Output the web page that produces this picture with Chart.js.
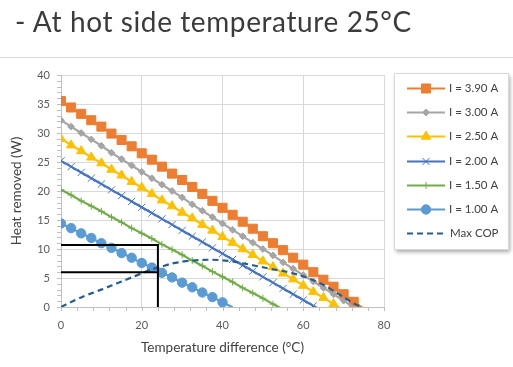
<!DOCTYPE html>
<html>
<head>
<meta charset="utf-8">
<script src="https://cdn.jsdelivr.net/npm/chart.js@4.4.1/dist/chart.umd.min.js"></script>
<style>
  html, body { margin: 0; padding: 0; background: #fff; }
  #wrap { position: relative; width: 513px; height: 367px; overflow: hidden; }
  #grafico { position: absolute; left: 0; top: 0; }
  #linha { position: absolute; left: 0; top: 57px; width: 513px; height: 1px; background: #d9d9d9; }
  #titulo { position: absolute; left: 15px; top: 7px; font-family: Lato, sans-serif; font-size: 28px; letter-spacing: 0.6px; line-height: 1; color: #3b3b3b; white-space: nowrap; }
</style>
</head>
<body>
<div id="wrap">
  <canvas id="grafico" width="513" height="367"></canvas>
  <div id="linha"></div>
  <div id="titulo">- At hot side temperature 25°C</div>
</div>
<script>
// diferença de temperatura (eixo x), passo de 2.5 °C
const deltaT = [0, 2.5, 5, 7.5, 10, 12.5, 15, 17.5, 20, 22.5, 25, 27.5, 30, 32.5, 35, 37.5,
                40, 42.5, 45, 47.5, 50, 52.5, 55, 57.5, 60, 62.5, 65, 67.5, 70, 72.5, 75];

// calor removido (W) para cada corrente
const q390 = [35.5, 34.4, 33.3, 32.2, 31.1, 29.9, 28.8, 27.7, 26.5, 25.4, 24.2, 23.0, 21.9, 20.7, 19.5, 18.3,
              17.1, 15.9, 14.7, 13.5, 12.2, 11.0, 9.8, 8.5, 7.3, 6.0, 4.7, 3.5, 2.2, 0.9, -0.3];
const q300 = [32.2, 31.1, 30.0, 28.9, 27.8, 26.6, 25.5, 24.4, 23.3, 22.2, 21.1, 20.0, 18.9, 17.7, 16.6, 15.5,
              14.4, 13.3, 12.2, 11.1, 10.0, 8.9, 7.7, 6.6, 5.5, 4.4, 3.3, 2.2, 1.1, -0.06];
const q250 = [29.0, 27.9, 26.9, 25.8, 24.8, 23.7, 22.7, 21.6, 20.6, 19.5, 18.4, 17.4, 16.3, 15.3, 14.2, 13.2,
              12.1, 11.1, 10.0, 9.0, 7.9, 6.9, 5.8, 4.8, 3.7, 2.6, 1.6, 0.5, -0.55];
const q200 = [25.2, 24.2, 23.2, 22.2, 21.2, 20.2, 19.2, 18.2, 17.2, 16.2, 15.2, 14.2, 13.2, 12.2, 11.2, 10.2,
              9.2, 8.2, 7.2, 6.2, 5.2, 4.2, 3.2, 2.2, 1.2, 0.2, -0.8];
const q150 = [20.2, 19.3, 18.3, 17.4, 16.5, 15.5, 14.6, 13.6, 12.7, 11.8, 10.8, 9.9, 9.0, 8.0, 7.1, 6.1,
              5.2, 4.3, 3.3, 2.4, 1.5, 0.5, -0.4];
const q100 = [14.4, 13.6, 12.7, 11.9, 11.0, 10.2, 9.3, 8.5, 7.6, 6.8, 5.9, 5.1, 4.2, 3.4, 2.5, 1.7, 0.8, -0.05];

// curva de COP máximo
const copX = [0, 2.5, 5, 7.5, 10, 12.5, 15, 17.5, 20, 22.5, 25, 27.5, 30, 32.5, 35, 37.5,
              40, 42.5, 45, 47.5, 50, 52.5, 55, 57.5, 60, 62.5, 65, 67.5, 70, 72.5, 74.5];
const copY = [0, 0.85, 1.65, 2.35, 3.0, 3.7, 4.4, 5.1, 5.8, 6.5, 7.0, 7.5, 7.8, 8.0, 8.1, 8.15,
              8.05, 7.85, 7.55, 7.2, 6.85, 6.5, 6.2, 5.8, 5.3, 4.6, 3.8, 2.8, 1.7, 0.6, 0];

// linhas pretas de leitura
const caixaX = [0, 24, 24];
const caixaY = [10.7, 10.7, 0];
const leituraX = [0, 24];
const leituraY = [6, 6];

const rotulos = ['I = 3.90 A', 'I = 3.00 A', 'I = 2.50 A', 'I = 2.00 A', 'I = 1.50 A', 'I = 1.00 A', 'Max COP'];
const ticksX = [0, 20, 40, 60, 80];
const ticksY = [0, 5, 10, 15, 20, 25, 30, 35, 40];

function pontos(xs, ys) {
    return ys.map((v, i) => ({ x: xs[i], y: v }));
}

function serie(label, valores, cor, estilo, raio, ordem) {
    return {
        label: label,
        data: pontos(deltaT, valores),
        borderColor: cor,
        backgroundColor: cor,
        borderWidth: 2.2,
        pointStyle: estilo,
        pointRadius: ctx => (ctx.raw && ctx.raw.y < 0 ? 0 : raio),
        pointBackgroundColor: cor,
        pointBorderColor: cor,
        pointBorderWidth: 1,
        tension: 0,
        order: ordem
    };
}

const datasets = [
    serie(rotulos[0], q390, '#ED7D31', 'rect', 6.4, 7),
    serie(rotulos[1], q300, '#A5A5A5', 'rectRot', 3.4, 6),
    serie(rotulos[2], q250, '#FFC000', 'triangle', 5.4, 5),
    serie(rotulos[3], q200, '#4472C4', 'crossRot', 5, 4),
    serie(rotulos[4], q150, '#70AD47', 'cross', 3.5, 3),
    serie(rotulos[5], q100, '#5B9BD5', 'circle', 4.7, 2),
    {
        label: rotulos[6],
        data: pontos(copX, copY),
        borderColor: '#255E91',
        borderWidth: 2.2,
        borderDash: [6, 4],
        pointRadius: 0,
        tension: 0.3,
        order: 1
    },
    {
        label: 'caixa',
        semLegenda: true,
        data: pontos(caixaX, caixaY),
        borderColor: '#000',
        borderWidth: 2,
        pointRadius: 0,
        tension: 0,
        order: 0
    },
    {
        label: 'leitura',
        semLegenda: true,
        data: pontos(leituraX, leituraY),
        borderColor: '#000',
        borderWidth: 2,
        pointRadius: 0,
        tension: 0,
        order: 0
    }
];

// traços menores dos eixos
const tracosMenores = {
    id: 'tracosMenores',
    afterDraw(chart) {
        const ctx = chart.ctx;
        const sx = chart.scales.x, sy = chart.scales.y;
        const area = chart.chartArea;
        ctx.save();
        ctx.strokeStyle = '#BFBFBF';
        ctx.lineWidth = 1;
        ctx.beginPath();
        for (let v = sx.min; v <= sx.max; v += 4) {
            const px = Math.round(sx.getPixelForValue(v)) + 0.5;
            ctx.moveTo(px, area.bottom);
            ctx.lineTo(px, area.bottom + 4);
        }
        for (let v = sy.min; v <= sy.max; v += 1) {
            const py = Math.round(sy.getPixelForValue(v)) + 0.5;
            ctx.moveTo(area.left - 4, py);
            ctx.lineTo(area.left, py);
        }
        ctx.stroke();
        ctx.restore();
    }
};

// legenda desenhada com linha + marcador
const legendaCaixa = {
    id: 'legendaCaixa',
    afterDraw(chart) {
        const ctx = chart.ctx;
        const caixa = { x: 394, y: 73, w: 114, h: 176 };
        ctx.save();
        ctx.shadowColor = 'rgba(0,0,0,0.35)';
        ctx.shadowBlur = 4;
        ctx.shadowOffsetX = 2;
        ctx.shadowOffsetY = 3;
        ctx.fillStyle = '#fff';
        ctx.fillRect(caixa.x, caixa.y, caixa.w, caixa.h);
        ctx.restore();
        ctx.save();
        ctx.strokeStyle = '#D9D9D9';
        ctx.lineWidth = 1;
        ctx.strokeRect(caixa.x + 0.5, caixa.y + 0.5, caixa.w, caixa.h);

        const itens = chart.data.datasets.filter(ds => !ds.semLegenda);
        itens.forEach((ds, i) => {
            const y = Math.round(88 + i * 24.2) + 0.5;
            ctx.strokeStyle = ds.borderColor;
            ctx.lineWidth = ds.borderWidth;
            ctx.setLineDash(ds.borderDash || []);
            ctx.beginPath();
            ctx.moveTo(407, y);
            ctx.lineTo(445, y);
            ctx.stroke();
            ctx.setLineDash([]);
            if (ds.pointStyle) {
                const raio = ds.pointRadius({ raw: { y: 1 } });
                ctx.fillStyle = ds.pointBackgroundColor;
                ctx.strokeStyle = ds.pointBorderColor;
                ctx.lineWidth = ds.pointBorderWidth;
                Chart.helpers.drawPoint(ctx, {
                    pointStyle: ds.pointStyle,
                    radius: raio,
                    rotation: 0,
                    borderWidth: ds.pointBorderWidth
                }, 426, y);
            }
            ctx.fillStyle = '#404040';
            ctx.font = '11.5px Lato, sans-serif';
            ctx.textBaseline = 'middle';
            ctx.fillText(ds.label, ds.pointStyle ? 449 : 450, y);
        });
        ctx.restore();
    }
};

const fonteEixo = { family: 'Lato, sans-serif', size: 11 };
const fonteTitulo = { family: 'Lato, sans-serif', size: 13.5 };

new Chart(document.getElementById('grafico').getContext('2d'), {
    type: 'line',
    data: { datasets: datasets },
    options: {
        responsive: false,
        animation: false,
        devicePixelRatio: 1,
        layout: { padding: { left: 0, top: 75, right: 129, bottom: 0 } },
        plugins: {
            legend: { display: false },
            tooltip: { enabled: false }
        },
        scales: {
            x: {
                type: 'linear',
                min: 0,
                max: 80,
                afterBuildTicks: scale => { scale.ticks = ticksX.map(v => ({ value: v })); },
                afterFit: scale => { scale.height = 60; },
                grid: { color: '#D9D9D9', drawTicks: false },
                border: { color: '#BFBFBF' },
                ticks: { color: '#595959', font: fonteEixo, padding: 12 },
                title: {
                    display: true,
                    text: 'Temperature difference (°C)',
                    color: '#404040',
                    font: fonteTitulo,
                    padding: { top: 11, bottom: 11 }
                }
            },
            y: {
                min: 0,
                max: 40,
                afterBuildTicks: scale => { scale.ticks = ticksY.map(v => ({ value: v })); },
                afterFit: scale => { scale.width = 61; },
                grid: { color: '#D9D9D9', drawTicks: false },
                border: { color: '#BFBFBF' },
                ticks: { color: '#595959', font: fonteEixo, padding: 11 },
                title: {
                    display: true,
                    text: 'Heat removed (W)',
                    color: '#404040',
                    font: fonteTitulo,
                    padding: { top: 9, bottom: 9 }
                }
            }
        }
    },
    plugins: [tracosMenores, legendaCaixa]
});
</script>
</body>
</html>
